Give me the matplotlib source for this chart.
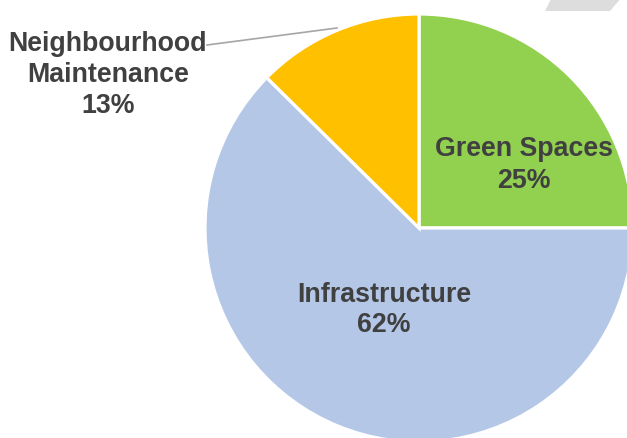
#!/usr/bin/python3

#Budget split pie chart

import matplotlib.pyplot as plt
from matplotlib.patches import Polygon

#data
categories = ["Green Spaces", "Infrastructure", "Neighbourhood\nMaintenance"]
shares = [25.0, 62.4, 12.6]
colors = ["#92D050", "#B4C7E7", "#FFC000"]

#layout (pixels, y measured from top)
W, H = 627, 439
CENTER = (419, 229)
RADIUS = 214
LABEL_POS = [(524, 165), (384, 310), (108, 75)]
TEXT_COLOR = "#404040"

plt.rcParams['font.family'] = ['Liberation Sans', 'DejaVu Sans']

fig = plt.figure(figsize=(W / 100, H / 100), dpi=100)
ax = fig.add_axes([0, 0, 1, 1])

ax.pie(shares, colors=colors, startangle=90, counterclock=False,
       center=(CENTER[0], H - CENTER[1]), radius=RADIUS,
       wedgeprops=dict(edgecolor="white", linewidth=2.3))

for name, val, (x, y) in zip(categories, shares, LABEL_POS):
    ax.text(x, H - y, f"{name}\n{val:.0f}%", ha="center", va="center",
            fontsize=19.3, fontweight="bold", color=TEXT_COLOR, linespacing=1.25)

#leader line for the small slice
ax.plot([207, 337], [H - 46, H - 29], color="#A6A6A6", lw=1.2)

#grey decoration in the corner
ax.add_patch(Polygon([(552, H + 2), (622, H + 2), (610, H - 12), (545, H - 12)],
                     closed=True, facecolor="#DDDDDD", edgecolor="none"))

ax.set_xlim(0, W)
ax.set_ylim(0, H)
ax.set_aspect("equal")
ax.axis("off")

fig.savefig("out.png", dpi=100)
